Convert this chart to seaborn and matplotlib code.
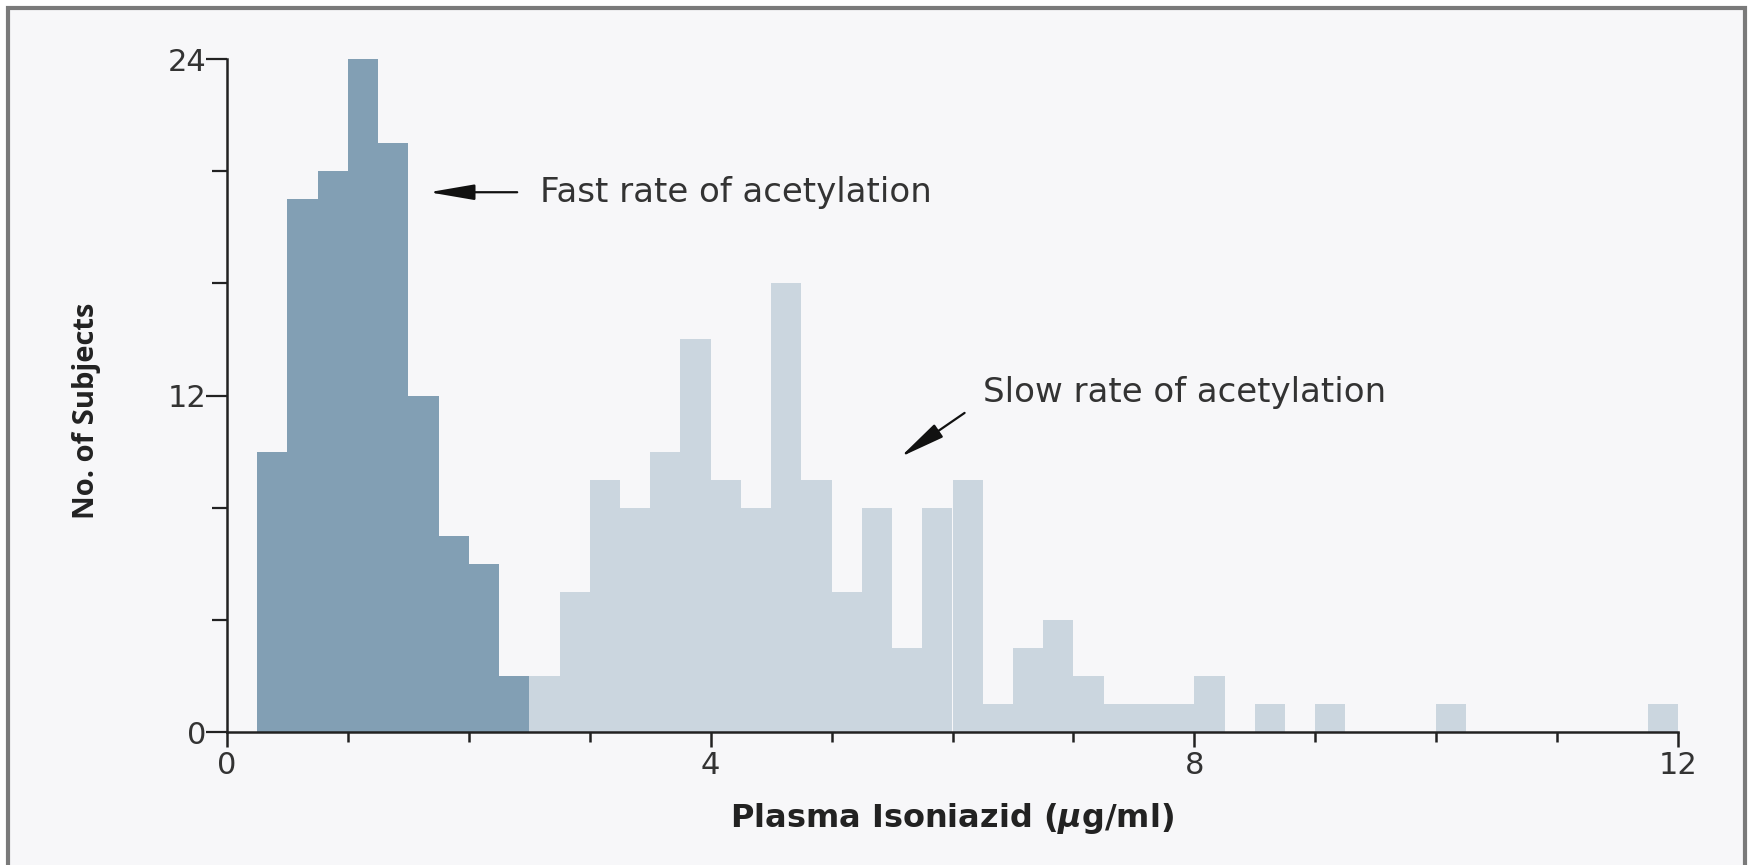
import numpy as np
import pandas as pd
import matplotlib
matplotlib.use("Agg")
import matplotlib.pyplot as plt
from matplotlib.patches import Rectangle
from matplotlib.ticker import FixedLocator
import seaborn as sns

# ---- data ----
bin_width = 0.25
fast_bin_start = 0.25          # first bin lower edge (µg/ml)
fast_counts = [10, 19, 20, 24, 21, 12, 7, 6, 2]
slow_bin_start = 2.5
slow_counts = [2, 5, 9, 8, 10, 14, 9, 8, 16, 9, 5, 8, 3, 8, 9, 1, 3, 4, 2, 1,
               1, 1, 2, 0, 1, 0, 1, 0, 0, 0, 1, 0, 0, 0, 0, 0, 0, 1]
x_major_ticks = [0, 4, 8, 12]
y_major_ticks = [0, 12, 24]
x_label = "Plasma Isoniazid ($\\mathit{\\mu}$g/ml)"
y_label = "No. of Subjects"
fast_text = "Fast rate of acetylation"
slow_text = "Slow rate of acetylation"

fast_edges = [float(v) for v in fast_bin_start + bin_width * np.arange(len(fast_counts) + 1)]
slow_edges = [float(v) for v in slow_bin_start + bin_width * np.arange(len(slow_counts) + 1)]
fast_df = pd.DataFrame({"conc": [(a + b) / 2 for a, b in zip(fast_edges[:-1], fast_edges[1:])],
                        "n": fast_counts})
slow_df = pd.DataFrame({"conc": [(a + b) / 2 for a, b in zip(slow_edges[:-1], slow_edges[1:])],
                        "n": slow_counts})

sns.set_style("ticks")
plt.rcParams["font.family"] = ["DejaVu Sans"]
plt.rcParams["mathtext.fontset"] = "custom"
plt.rcParams["mathtext.it"] = "DejaVu Sans:italic:bold"
plt.rcParams["mathtext.rm"] = "DejaVu Sans:bold"

W, H = 1753, 865
fig = plt.figure(figsize=(W / 100, H / 100), dpi=100, facecolor="white")

# outer frame with light panel background
fig.patches.append(Rectangle((8 / W, -0.02), (1745 - 8) / W, (857 + 0.02 * H) / H,
                             transform=fig.transFigure, facecolor="#f7f7f9",
                             edgecolor="#7a7a7a", linewidth=3, zorder=-10))

ylim_top = 24.4
ax_bottom_px, px_per_unit = 732, 28.04
ax_top_px = ax_bottom_px - px_per_unit * ylim_top
ax = fig.add_axes([227 / W, 1 - ax_bottom_px / H, (1678 - 227) / W,
                   (ax_bottom_px - ax_top_px) / H])
ax.set_facecolor("none")

dark = "#829fb4"
light = "#cbd6df"
sns.histplot(data=slow_df, x="conc", weights="n", bins=slow_edges, ax=ax,
             color=light, alpha=1, linewidth=0, edgecolor="none")
sns.histplot(data=fast_df, x="conc", weights="n", bins=fast_edges, ax=ax,
             color=dark, alpha=1, linewidth=0, edgecolor="none")

ax.set_xlim(0, 12)
ax.set_ylim(0, ylim_top)
sns.despine(ax=ax)
ax.spines["left"].set_bounds(0, 24)
for s in ("left", "bottom"):
    ax.spines[s].set_linewidth(1.8)
    ax.spines[s].set_color("#222222")

ax.xaxis.set_major_locator(FixedLocator(x_major_ticks))
ax.xaxis.set_minor_locator(FixedLocator(range(0, 13)))
ax.yaxis.set_major_locator(FixedLocator(y_major_ticks))
ax.yaxis.set_minor_locator(FixedLocator([4, 8, 16, 20]))
ax.tick_params(axis="x", which="major", length=11, width=1.8, color="#222222",
               labelsize=22, labelcolor="#333333", pad=3)
ax.tick_params(axis="x", which="minor", length=7, width=1.8, color="#222222")
ax.tick_params(axis="y", which="major", length=15, width=1.6, color="#222222",
               labelsize=22, labelcolor="#333333", pad=0)
ax.tick_params(axis="y", which="minor", length=11, width=1.6, color="#222222")

ax.set_xlabel(x_label, fontsize=23, fontweight="bold", color="#222222", labelpad=15)
ax.set_ylabel(y_label, fontsize=21, fontweight="bold", color="#222222",
              family=["Open Sans", "DejaVu Sans"])
ax.yaxis.set_label_coords(-0.0865, 0.47)

arrow_style = dict(arrowstyle="-|>,head_length=1.4,head_width=0.24",
                   color="#111111", lw=1.6, mutation_scale=20, shrinkA=0, shrinkB=0)
ax.annotate("", xy=(1.67, 19.25), xytext=(2.4, 19.25), arrowprops=arrow_style)
ax.text(2.59, 18.9, fast_text, fontsize=24.5, color="#333333", va="baseline", ha="left")

ax.annotate("", xy=(5.57, 9.81), xytext=(6.1, 11.38), arrowprops=arrow_style)
ax.text(6.25, 11.77, slow_text, fontsize=24.5, color="#333333", va="baseline", ha="left")

fig.savefig("out.png", dpi=100, facecolor=fig.get_facecolor())
